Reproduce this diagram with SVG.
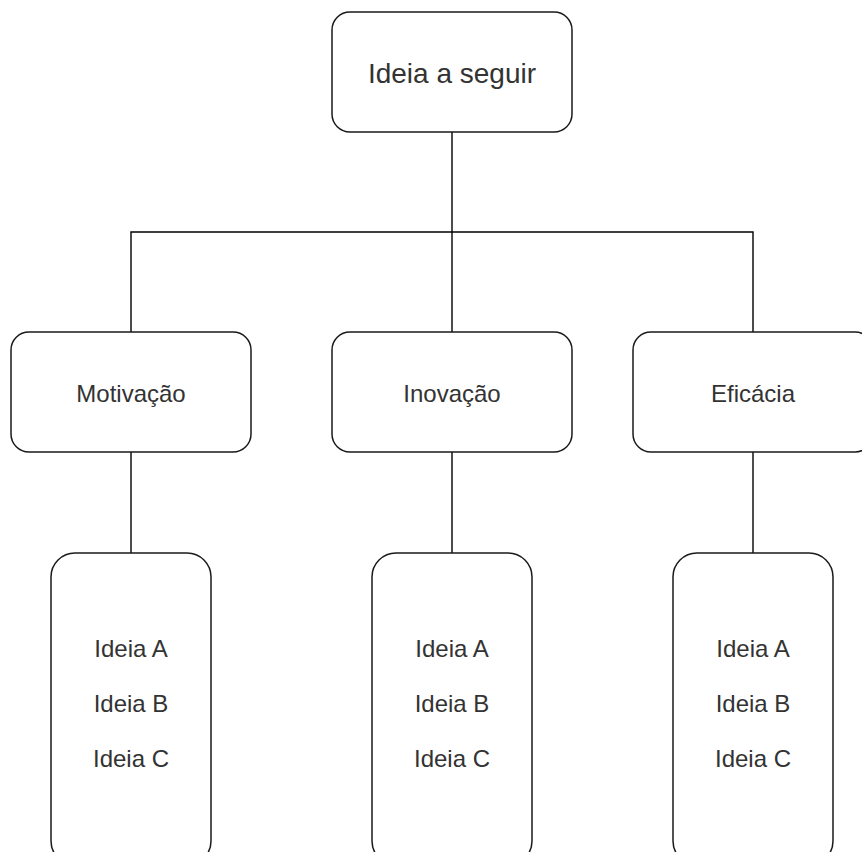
<svg xmlns="http://www.w3.org/2000/svg" width="862" height="852" viewBox="0 0 862 852">
  <style>
    .box { fill: #ffffff; stroke: #1a1a1a; stroke-width: 1.5; }
    .edge { fill: none; stroke: #000000; stroke-width: 1.4; }
    .lbl { font-family: "Liberation Sans", Arial, Helvetica, sans-serif; fill: #333333; text-anchor: middle; font-size: 24px; }
    .big { font-size: 28px; }
  </style>
  <rect width="862" height="852" fill="#ffffff"/>
  <g id="connectors">
    <line class="edge" x1="452" y1="132" x2="452" y2="332"/>
    <polyline class="edge" points="131,332 131,232 753,232 753,332"/>
    <line class="edge" x1="131" y1="452" x2="131" y2="553"/>
    <line class="edge" x1="452" y1="452" x2="452" y2="553"/>
    <line class="edge" x1="753" y1="452" x2="753" y2="553"/>
  </g>
  <g id="ideia-a-seguir">
    <rect class="box" x="332" y="12" width="240" height="120" rx="18" ry="18"/>
    <text class="lbl big" x="452" y="83">Ideia a seguir</text>
  </g>
  <g id="motivacao">
    <rect class="box" x="11" y="332" width="240" height="120" rx="18" ry="18"/>
    <text class="lbl" x="131" y="402">Motivação</text>
  </g>
  <g id="inovacao">
    <rect class="box" x="332" y="332" width="240" height="120" rx="18" ry="18"/>
    <text class="lbl" x="452" y="402">Inovação</text>
  </g>
  <g id="eficacia">
    <rect class="box" x="633" y="332" width="240" height="120" rx="18" ry="18"/>
    <text class="lbl" x="753" y="402">Eficácia</text>
  </g>
  <g id="ideias-motivacao">
    <rect class="box" x="51" y="553" width="160" height="312" rx="24" ry="24"/>
    <text class="lbl" x="131" y="657">Ideia A</text>
    <text class="lbl" x="131" y="712">Ideia B</text>
    <text class="lbl" x="131" y="767">Ideia C</text>
  </g>
  <g id="ideias-inovacao">
    <rect class="box" x="372" y="553" width="160" height="312" rx="24" ry="24"/>
    <text class="lbl" x="452" y="657">Ideia A</text>
    <text class="lbl" x="452" y="712">Ideia B</text>
    <text class="lbl" x="452" y="767">Ideia C</text>
  </g>
  <g id="ideias-eficacia">
    <rect class="box" x="673" y="553" width="160" height="312" rx="24" ry="24"/>
    <text class="lbl" x="753" y="657">Ideia A</text>
    <text class="lbl" x="753" y="712">Ideia B</text>
    <text class="lbl" x="753" y="767">Ideia C</text>
  </g>
</svg>
